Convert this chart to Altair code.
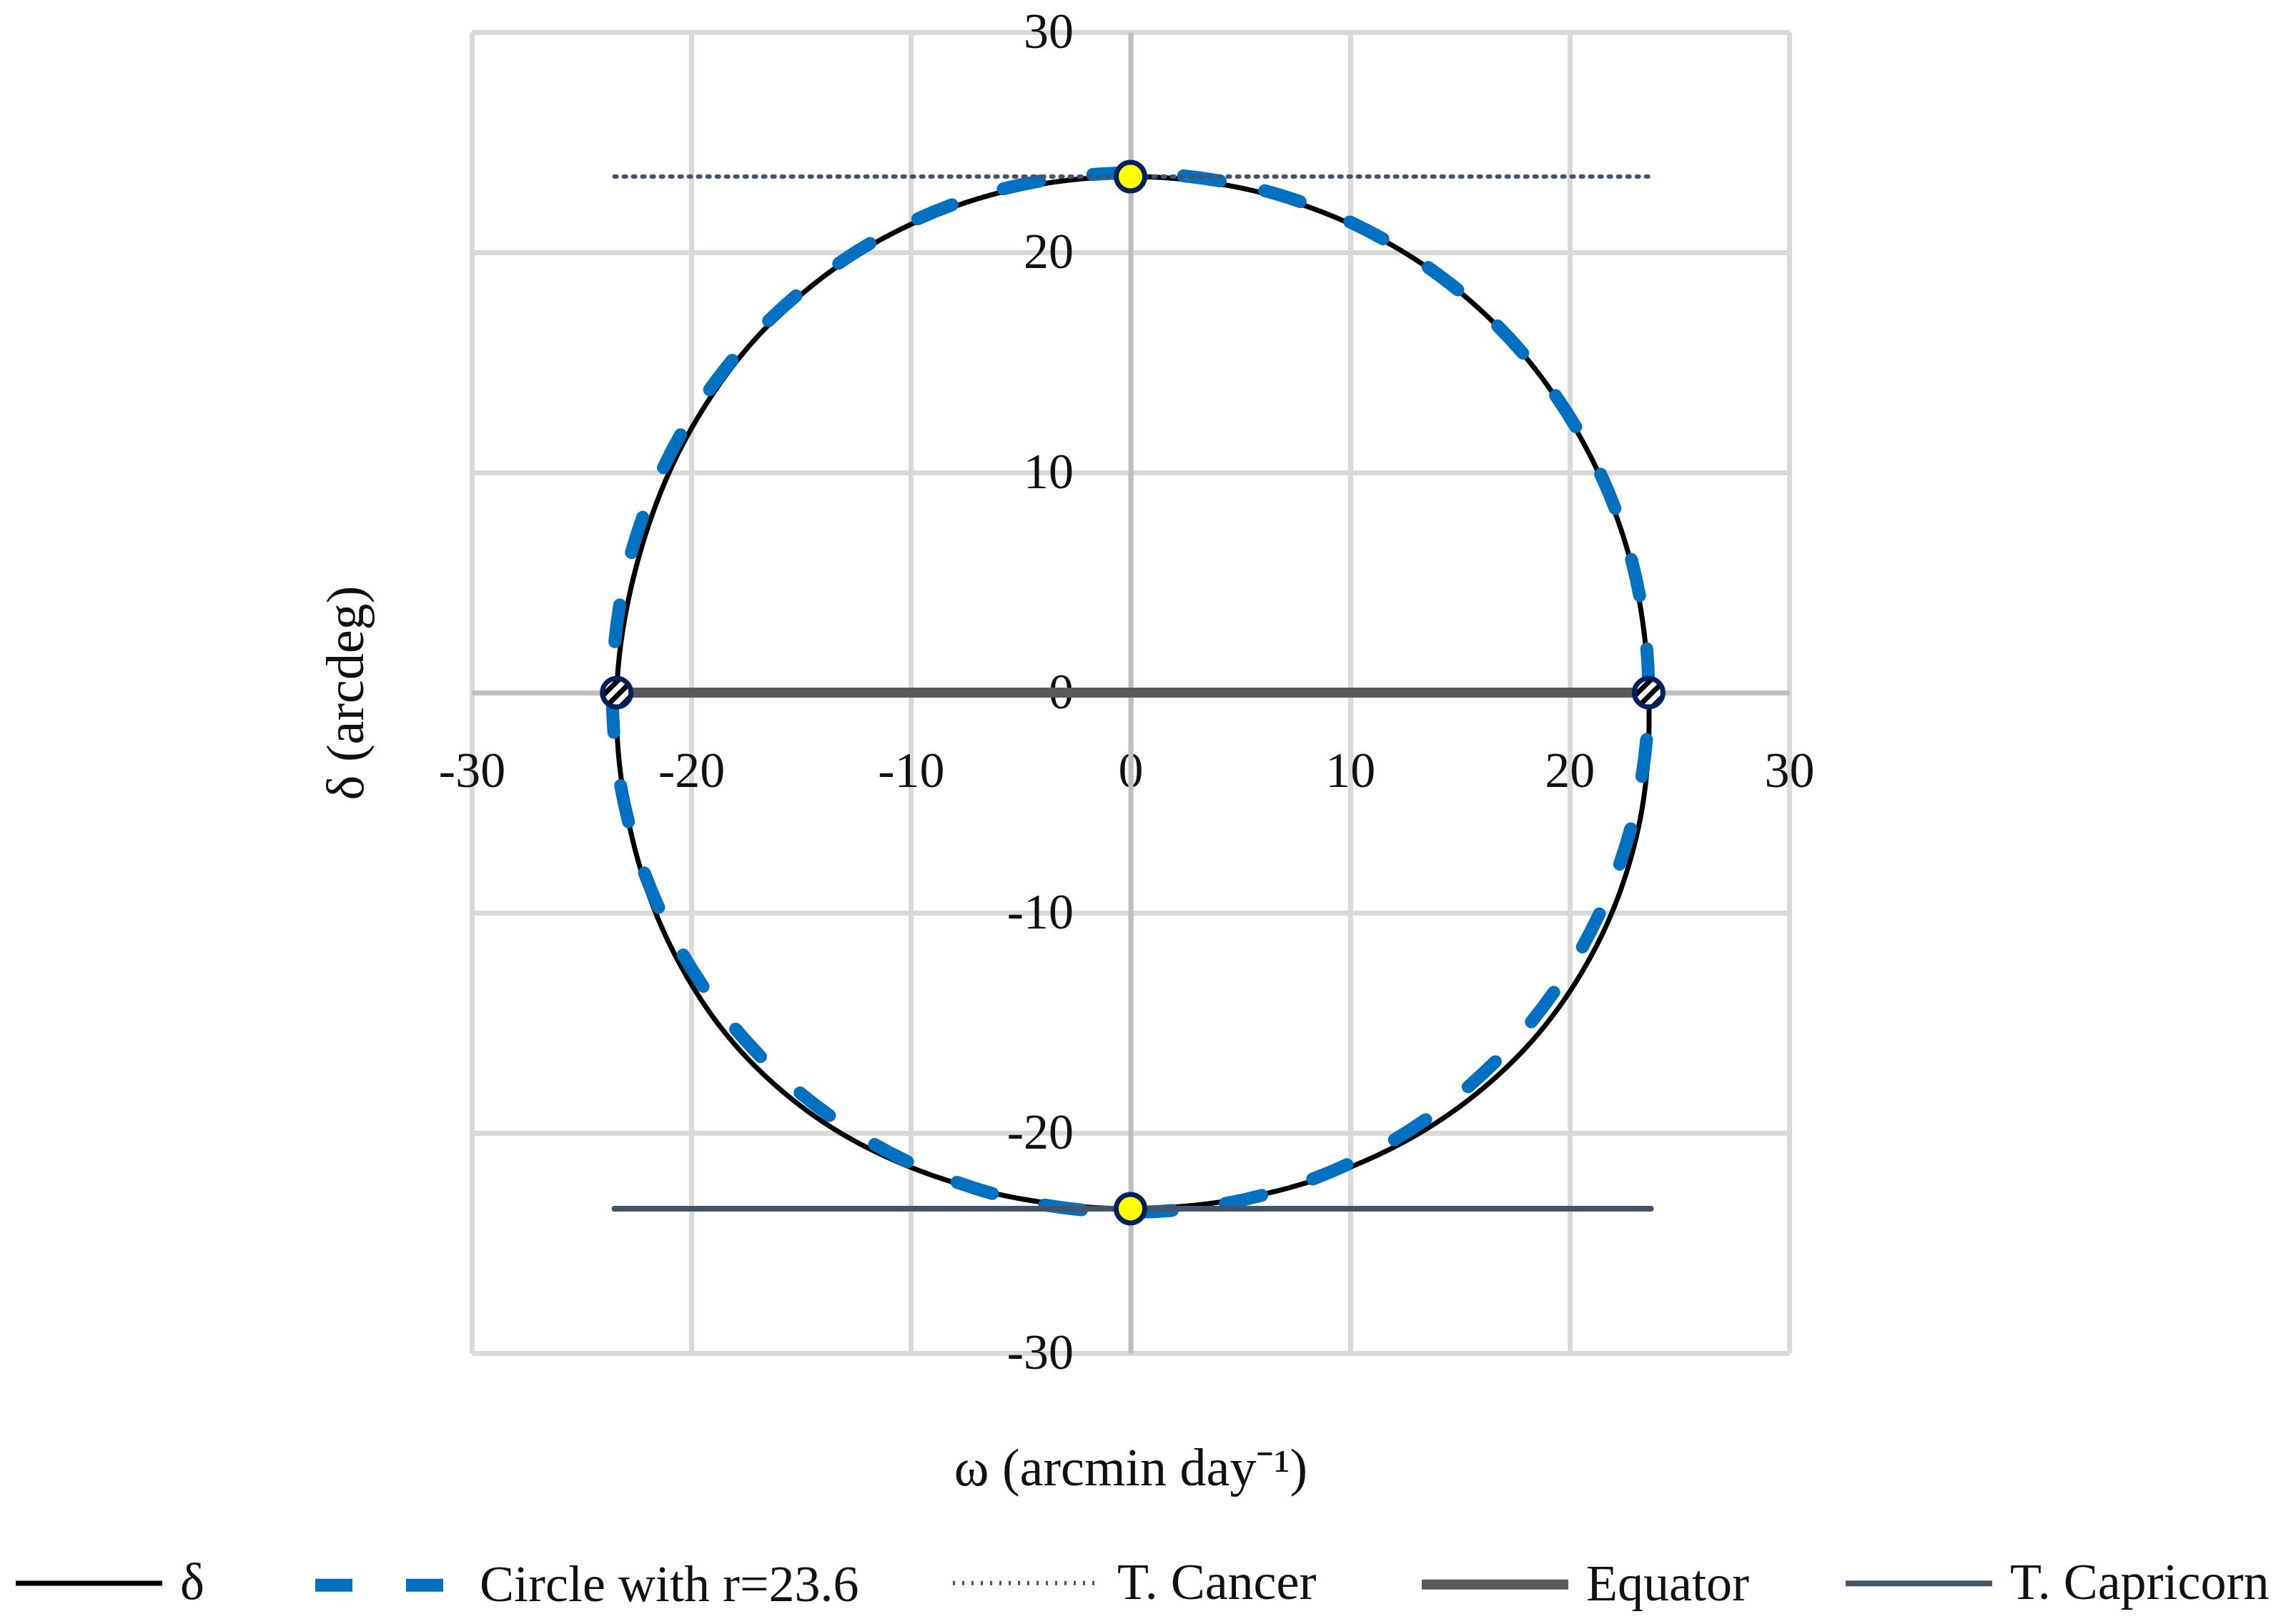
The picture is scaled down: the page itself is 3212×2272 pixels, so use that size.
import altair as alt
import pandas as pd

FONT = "Liberation Serif"

SERIES = ["δ", "Circle with r=23.6", "T. Cancer", "Equator", "T. Capricorn"]
COLORS = ["#000000", "#0070c0", "#44546a", "#595959", "#44546a"]
DASHES = [[1, 0], [52, 75], [3, 10], [1, 0], [1, 0]]
WIDTHS = [7, 18, 6, 14, 8]

TICKS = [-30, -20, -10, 0, 10, 20, 30]

# δ curve (omega, declination)
delta_omega = [23.6, 22.79, 20.56, 17.01, 12.21, 6.39, 0.0, -6.37, -12.12, -16.83, -20.29, -22.46,
               -23.4, -22.85, -20.97, -17.7, -12.95, -6.8, 0.0, 6.81, 12.92, 17.81, 21.24, 23.18]
delta_dec = [0.0, 5.91, 11.47, 16.34, 20.15, 22.60, 23.44, 22.60, 20.15, 16.34, 11.47, 5.91,
             0.0, -5.91, -11.47, -16.34, -20.15, -22.60, -23.44, -22.60, -20.15, -16.34, -11.47, -5.91]

# circle with r = 23.6
circle_omega = [0.0, 6.11, 11.8, 16.69, 20.44, 22.80, 23.6, 22.80, 20.44, 16.69, 11.8, 6.11,
                0.0, -6.11, -11.8, -16.69, -20.44, -22.80, -23.6, -22.80, -20.44, -16.69, -11.8, -6.11]
circle_dec = [23.6, 22.80, 20.44, 16.69, 11.8, 6.11, 0.0, -6.11, -11.8, -16.69, -20.44, -22.80,
              -23.6, -22.80, -20.44, -16.69, -11.8, -6.11, 0.0, 6.11, 11.8, 16.69, 20.44, 22.80]

cancer_omega = [-23.5, 23.7]
cancer_dec = [23.44, 23.44]
equator_omega = [-23.4, 23.6]
equator_dec = [0.0, 0.0]
capricorn_omega = [-23.5, 23.7]
capricorn_dec = [-23.44, -23.44]

solstice_omega = [0.0, 0.0]
solstice_dec = [23.44, -23.44]
equinox_omega = [23.6, -23.4]
equinox_dec = [0.0, 0.0]

W, H = 1843, 1848


def frame(name, xs, ys):
    return pd.DataFrame({"series": name, "x": xs, "y": ys, "i": list(range(len(xs)))})


df_delta = frame(SERIES[0], delta_omega, delta_dec)
df_circle = frame(SERIES[1], circle_omega, circle_dec)
df_cancer = frame(SERIES[2], cancer_omega, cancer_dec)
df_equator = frame(SERIES[3], equator_omega, equator_dec)
df_capricorn = frame(SERIES[4], capricorn_omega, capricorn_dec)
df_sol = pd.DataFrame({"x": solstice_omega, "y": solstice_dec})
df_equ = pd.DataFrame({"x": equinox_omega, "y": equinox_dec})

x_axis = alt.Axis(
    values=TICKS, offset=-H / 2, grid=True, gridColor="#d9d9d9", gridWidth=7,
    domainColor="#bfbfbf", domainWidth=7, ticks=False, labelFlush=False,
    labelFont=FONT, labelFontSize=70, labelColor="#111111", labelPadding=76,
    labelExpr="'' + datum.value",
    title="ω (arcmin day⁻¹)", titleFont=FONT, titleFontSize=74, titleFontWeight="normal",
    titleColor="#111111", titleY=1086, titleBaseline="middle",
)
y_axis = alt.Axis(
    values=TICKS, offset=-W / 2, grid=True, gridColor="#d9d9d9", gridWidth=7,
    domainColor="#bfbfbf", domainWidth=7, ticks=False,
    labelFont=FONT, labelFontSize=70, labelColor="#111111", labelPadding=80,
    labelExpr="'' + datum.value",
    title="δ (arcdeg)", titleFont=FONT, titleFontSize=74, titleFontWeight="normal",
    titleColor="#111111", titleX=-1096, titleBaseline="middle",
)

X = alt.X("x:Q", scale=alt.Scale(domain=[-30, 30], nice=False, zero=False), axis=x_axis)
Y = alt.Y("y:Q", scale=alt.Scale(domain=[-30, 30], nice=False, zero=False), axis=y_axis)
C = alt.Color("series:N", scale=alt.Scale(type="ordinal", domain=SERIES, range=COLORS), title=None)
D = alt.StrokeDash("series:N", scale=alt.Scale(type="ordinal", domain=SERIES, range=DASHES), title=None)
SW = alt.StrokeWidth("series:N", scale=alt.Scale(type="ordinal", domain=SERIES, range=WIDTHS), title=None)
O = alt.Order("i:Q")


def line_layer(df, interp):
    return alt.Chart(df).mark_line(interpolate=interp, strokeCap="round").encode(
        x=X, y=Y, color=C, strokeDash=D, strokeWidth=SW, order=O
    )


layers = [
    line_layer(df_delta, "cardinal-closed"),
    line_layer(df_circle, "cardinal-closed"),
    line_layer(df_cancer, "linear"),
    line_layer(df_equator, "linear"),
    line_layer(df_capricorn, "linear"),
]

checker = alt.LinearGradient(
    gradient="linear", x1=0, y1=0, x2=1, y2=1,
    stops=[
        alt.GradientStop(color="#000000", offset=0.0),
        alt.GradientStop(color="#000000", offset=0.125),
        alt.GradientStop(color="#ffffff", offset=0.125),
        alt.GradientStop(color="#ffffff", offset=0.25),
        alt.GradientStop(color="#000000", offset=0.25),
        alt.GradientStop(color="#000000", offset=0.375),
        alt.GradientStop(color="#ffffff", offset=0.375),
        alt.GradientStop(color="#ffffff", offset=0.5),
        alt.GradientStop(color="#000000", offset=0.5),
        alt.GradientStop(color="#000000", offset=0.625),
        alt.GradientStop(color="#ffffff", offset=0.625),
        alt.GradientStop(color="#ffffff", offset=0.75),
        alt.GradientStop(color="#000000", offset=0.75),
        alt.GradientStop(color="#000000", offset=0.875),
        alt.GradientStop(color="#ffffff", offset=0.875),
        alt.GradientStop(color="#ffffff", offset=1.0),
    ],
)

sol = alt.Chart(df_sol).mark_point(
    shape="circle", filled=True, fill="#ffff00", stroke="#002060", strokeWidth=7,
    size=1600, opacity=1, fillOpacity=1, strokeOpacity=1
).encode(x=X, y=Y)
equ = alt.Chart(df_equ).mark_point(
    shape="circle", filled=True, fill=checker, stroke="#002060", strokeWidth=7,
    size=1600, opacity=1, fillOpacity=1, strokeOpacity=1
).encode(x=X, y=Y)

chart = alt.layer(*layers, sol, equ).properties(
    width=W, height=H,
    autosize=alt.AutoSizeParams(type="none"),
    padding={"left": 652, "top": 37, "right": 701, "bottom": 371},
    background="#ffffff",
).configure_view(stroke=None).configure_legend(
    orient="none", legendX=-647, legendY=2061, direction="horizontal", columns=5,
    columnPadding=119, labelFont=FONT, labelFontSize=72, labelColor="#111111",
    labelOffset=16, symbolType="stroke", symbolSize=42025, labelLimit=0,
)

chart.save("out.html", embed_options={"renderer": "svg", "actions": False})
